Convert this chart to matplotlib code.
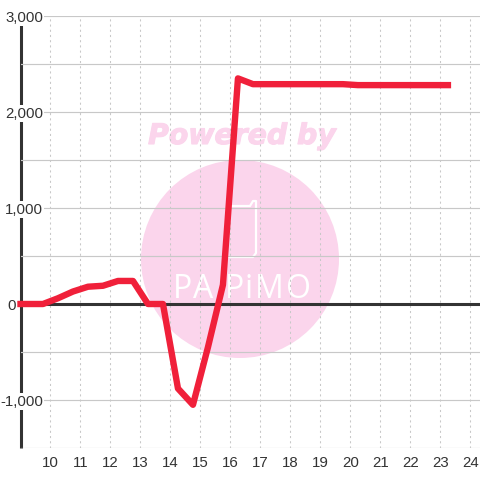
#!/usr/bin/env python3
import matplotlib
matplotlib.use('Agg')
import matplotlib.pyplot as plt
import matplotlib.patheffects as pe
from matplotlib.lines import Line2D
from matplotlib.patches import Circle
from matplotlib.transforms import ScaledTranslation

hours = [9.0, 9.75, 10.25, 10.75, 11.25, 11.75, 12.25, 12.75, 13.25, 13.75, 14.25, 14.75,
         15.25, 15.75, 16.25, 16.75, 17.25, 17.75, 18.25, 18.75, 19.25, 19.75, 20.25,
         20.75, 21.25, 21.75, 22.25, 22.75, 23.25]
values = [0, 0, 60, 130, 180, 190, 240, 240, 0, 0, -880, -1050,
          -450, 200, 2350, 2290, 2290, 2290, 2290, 2290, 2290, 2290, 2280,
          2280, 2280, 2280, 2280, 2280, 2280]
x_ticks = list(range(10, 25))
y_major = [-1000, 0, 1000, 2000, 3000]
y_minor = [-1500, -500, 500, 1500, 2500]
y_labels = ['-1,000', '0', '1,000', '2,000', '3,000']

PINK = '#fbd5ec'
RED = '#f0203a'
DARK = '#333333'
GRID = '#c8c8c8'
W = 480.0


def fx(px):
    return px / W


def fy(py):
    return 1 - py / W


plt.rcParams['font.family'] = ['Liberation Sans', 'DejaVu Sans']

fig = plt.figure(figsize=(4.8, 4.8), dpi=100, facecolor='white')
ax = fig.add_axes([fx(20.5), fy(448), fx(459.5), fy(16) - fy(448)])
ax.set_zorder(1)
ax.patch.set_visible(False)

# watermark sits under the axes
fig.add_artist(Circle((fx(240), fy(259)), 99 / W, transform=fig.transFigure,
                      facecolor=PINK, edgecolor='none', zorder=0))
fig.text(fx(242), fy(136), 'Powered by', color=PINK, fontsize=20.4, fontweight='bold',
         fontstyle='italic', family='DejaVu Sans', ha='center', va='center', zorder=0,
         path_effects=[pe.withStroke(linewidth=0.8, foreground=PINK)])
for px, ch in zip([182, 203, 235, 249, 269, 298], 'PAPiMO'):
    fig.text(fx(px), fy(290), ch, color='white', fontsize=23, family='Open Sans',
             ha='center', va='center', zorder=0.1)
fig.add_artist(Line2D([fx(p) for p in [232, 250, 253, 256, 256, 253, 228]],
                      [fy(p) for p in [206, 206, 201, 201, 253, 257, 257]],
                      color='white', lw=1.6, transform=fig.transFigure, zorder=0.1))

ax.set_xlim(9, 24.32)
ax.set_ylim(-1500, 3000)
ax.set_xticks(x_ticks)
ax.set_yticks(y_major)
ax.set_yticks(y_minor, minor=True)
ax.set_yticklabels(y_labels)
ax.set_axisbelow(False)
ax.grid(True, axis='y', which='both', color=GRID, lw=0.85)
ax.grid(True, axis='x', which='major', color=GRID, lw=0.75, linestyle=(0, (2, 3)))
ax.tick_params(axis='both', which='both', length=0)
ax.tick_params(axis='y', labelsize=10.8, labelcolor=DARK, pad=-16.4)
ax.tick_params(axis='x', labelsize=10.8, labelcolor=DARK, pad=6)
for lab in ax.get_yticklabels():
    lab.set_ha('right')
    lab.set_bbox(dict(facecolor='white', edgecolor='none', pad=0.8))
    if lab.get_text() == '0':
        # zero label sits left of the axis line in the original
        lab.set_transform(lab.get_transform() + ScaledTranslation(-0.27, 0, fig.dpi_scale_trans))

for side in ['top', 'right', 'bottom']:
    ax.spines[side].set_visible(False)
ax.spines['left'].set_color(DARK)
ax.spines['left'].set_linewidth(2.2)
ax.spines['left'].set_capstyle('butt')
ax.spines['left'].set_zorder(1)

ax.axhline(0, color=DARK, lw=2.2, zorder=2.8)
ax.plot(hours, values, color=RED, lw=4.6, solid_joinstyle='round',
        solid_capstyle='projecting', clip_on=False, zorder=3)

fig.savefig('out.png', dpi=100)
